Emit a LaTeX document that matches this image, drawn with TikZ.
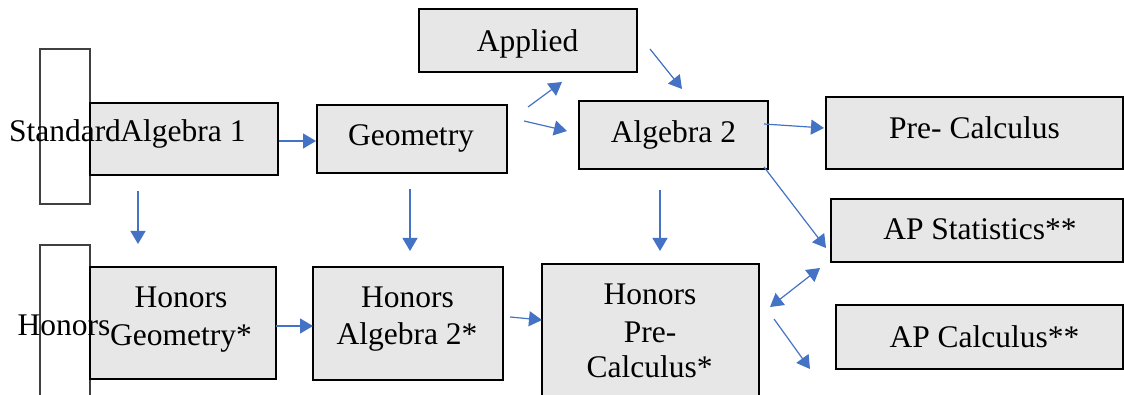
\documentclass[tikz,border=0pt]{standalone}
\usepackage{fontspec}
\setmainfont{Liberation Serif}
\newfontfamily\tnr{Liberation Serif}
\usetikzlibrary{arrows.meta}
\definecolor{boxfill}{HTML}{E7E7E7}
\definecolor{arrblue}{HTML}{4472C4}
\begin{document}
\begin{tikzpicture}[x=1pt,y=-1pt,
  course/.style={draw=black, line width=2.6pt, fill=boxfill, inner sep=0pt, outer sep=0pt},
  tier/.style={draw=black!75, line width=1.3pt, fill=white, inner sep=0pt, outer sep=0pt},
  txt/.style={anchor=base, inner sep=0pt, outer sep=0pt, font=\tnr\fontsize{31.5}{36}\selectfont},
  arr/.style={draw=arrblue, line width=1.2pt, -{Triangle[length=13pt,width=15pt]}},
  darr/.style={draw=arrblue, line width=1.2pt, {Triangle[length=13pt,width=15pt]}-{Triangle[length=13pt,width=15pt]}}]
\useasboundingbox (0,0) rectangle (1124,395);
% tier label boxes
\node[tier, minimum width=50pt, minimum height=155pt] (stdtier) at (65,126.5) {};
\node[tier, minimum width=50pt, minimum height=155pt] (hontier) at (65,322.5) {};
% course boxes
\node[course, minimum width=188pt, minimum height=72pt] (alg1) at (184,139) {};
\node[course, minimum width=190pt, minimum height=68pt] (geo) at (412,139) {};
\node[course, minimum width=218pt, minimum height=63pt] (app) at (528,40.5) {};
\node[course, minimum width=189pt, minimum height=68pt] (alg2) at (673.5,135) {};
\node[course, minimum width=297pt, minimum height=72pt] (prec) at (974.5,133) {};
\node[course, minimum width=292pt, minimum height=63pt] (apstat) at (977,230.5) {};
\node[course, minimum width=287pt, minimum height=64pt] (apcalc) at (979.5,337) {};
\node[course, minimum width=186pt, minimum height=112pt] (hgeo) at (183,323) {};
\node[course, minimum width=190pt, minimum height=113pt] (halg2) at (408,323.5) {};
\node[course, minimum width=217pt, minimum height=134pt] (hprec) at (650.5,331) {};
% connector ends
\coordinate (a1s) at (279,141);   \coordinate (a1e) at (316,141);
\coordinate (g1s) at (528,107);   \coordinate (g1e) at (562,82);
\coordinate (g2s) at (524,121);   \coordinate (g2e) at (567,131);
\coordinate (p1s) at (650,49);    \coordinate (p1e) at (682,89);
\coordinate (b1s) at (764,124);   \coordinate (b1e) at (824,128);
\coordinate (b2s) at (764,167);   \coordinate (b2e) at (826,248);
\coordinate (h1s) at (770,307);   \coordinate (h1e) at (820,268);
\coordinate (h2s) at (774,319);   \coordinate (h2e) at (810,369);
\coordinate (d1s) at (138,191);   \coordinate (d1e) at (138,244);
\coordinate (d2s) at (410,189);   \coordinate (d2e) at (410,251);
\coordinate (d3s) at (660,190);   \coordinate (d3e) at (660,251);
\coordinate (r1s) at (276,326);   \coordinate (r1e) at (313,326);
\coordinate (r2s) at (510,317);   \coordinate (r2e) at (542,320);
% connectors
\draw[arr] (a1s) -- (a1e);
\draw[arr] (g1s) -- (g1e);
\draw[arr] (g2s) -- (g2e);
\draw[arr] (p1s) -- (p1e);
\draw[arr] (b1s) -- (b1e);
\draw[arr] (b2s) -- (b2e);
\draw[darr] (h1s) -- (h1e);
\draw[arr] (h2s) -- (h2e);
\draw[arr] (d1s) -- (d1e);
\draw[arr] (d2s) -- (d2e);
\draw[arr] (d3s) -- (d3e);
\draw[arr] (r1s) -- (r1e);
\draw[arr] (r2s) -- (r2e);
% texts
\node[txt] (tstd) at (65,142) {Standard};
\node[txt] (thon) at (64,335) {Honors};
\node[txt] (talg1) at (183,142) {Algebra 1};
\node[txt] (tgeo) at (411,146) {Geometry};
\node[txt] (tapp) at (527.5,52) {Applied};
\node[txt] (talg2) at (673.5,143) {Algebra 2};
\node[txt] (tprec) at (974.5,139) {Pre- Calculus};
\node[txt] (tstat) at (980,240) {AP Statistics**};
\node[txt] (tcalc) at (984.5,347) {AP Calculus**};
\node[txt] (thg1) at (181,308) {Honors};
\node[txt] (thg2) at (181,345) {Geometry*};
\node[txt] (tha1) at (407.5,308) {Honors};
\node[txt] (tha2) at (407,344) {Algebra 2*};
\node[txt] (thp1) at (650,305) {Honors};
\node[txt] (thp2) at (650,342) {Pre-};
\node[txt] (thp3) at (649.5,377) {Calculus*};
\end{tikzpicture}
\end{document}
